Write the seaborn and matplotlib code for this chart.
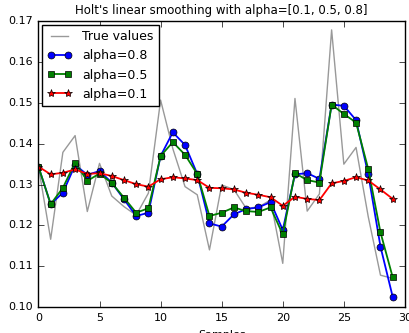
import numpy as np
import pandas as pd
import matplotlib
matplotlib.use('Agg')
import matplotlib.pyplot as plt
import seaborn as sns

# values
samples = np.arange(30)
true_values = [0.1344, 0.1166, 0.1379, 0.1420, 0.1234, 0.1352, 0.1272, 0.1246, 0.1225, 0.1279,
               0.1507, 0.1388, 0.1295, 0.1275, 0.1140, 0.1299, 0.1288, 0.1242, 0.1245, 0.1262,
               0.1107, 0.1511, 0.1235, 0.1277, 0.1679, 0.1350, 0.1391, 0.1221, 0.1078, 0.1070]
alpha08 = [0.1344, 0.1252, 0.1280, 0.1348, 0.1324, 0.1333, 0.1305, 0.1264, 0.1223, 0.1231,
           0.1370, 0.1428, 0.1397, 0.1326, 0.1205, 0.1197, 0.1227, 0.1240, 0.1244, 0.1257,
           0.1189, 0.1325, 0.1328, 0.1314, 0.1496, 0.1493, 0.1458, 0.1325, 0.1148, 0.1025]
alpha05 = [0.1344, 0.1252, 0.1292, 0.1354, 0.1309, 0.1327, 0.1304, 0.1268, 0.1231, 0.1242,
           0.1370, 0.1404, 0.1373, 0.1326, 0.1223, 0.1231, 0.1244, 0.1235, 0.1233, 0.1244,
           0.1178, 0.1328, 0.1311, 0.1305, 0.1496, 0.1473, 0.1452, 0.1338, 0.1183, 0.1073]
alpha01 = [0.1344, 0.1325, 0.1329, 0.1337, 0.1326, 0.1328, 0.1321, 0.1311, 0.1301, 0.1295,
           0.1313, 0.1318, 0.1315, 0.1311, 0.1292, 0.1291, 0.1288, 0.1280, 0.1275, 0.1269,
           0.1248, 0.1270, 0.1265, 0.1262, 0.1303, 0.1309, 0.1318, 0.1310, 0.1288, 0.1265]

plt.style.use('classic')
plt.rcParams['font.family'] = ['DejaVu Sans']

fig = plt.figure(figsize=(4.09, 3.33), dpi=100)
ax = fig.add_axes([0.094, 0.078, 0.896, 0.858])

sns.lineplot(x=samples, y=true_values, color='0.6', lw=1, label='True values', ax=ax)
sns.lineplot(x=samples, y=alpha08, color='b', marker='o', markersize=5, lw=1.3,
             markeredgecolor='k', markeredgewidth=0.5, label='alpha=0.8', ax=ax)
sns.lineplot(x=samples, y=alpha05, color='g', marker='s', markersize=5, lw=1.3,
             markeredgecolor='k', markeredgewidth=0.5, label='alpha=0.5', ax=ax)
sns.lineplot(x=samples, y=alpha01, color='r', marker='*', markersize=6, lw=1.3,
             markeredgecolor='k', markeredgewidth=0.5, label='alpha=0.1', ax=ax)

ax.set_xlim(0, 30)
ax.set_ylim(0.10, 0.17)
ax.set_yticks(np.arange(0.10, 0.1701, 0.01))
ax.tick_params(labelsize=8)
ax.set_title("Holt's linear smoothing with alpha=[0.1, 0.5, 0.8]", fontsize=8.5)
ax.set_xlabel('Samples', fontsize=8)
ax.set_ylabel('Example data', fontsize=8)
ax.legend(loc='upper left', fontsize=9, fancybox=False, numpoints=2, borderaxespad=0.3)

fig.savefig('out.png', dpi=100)
